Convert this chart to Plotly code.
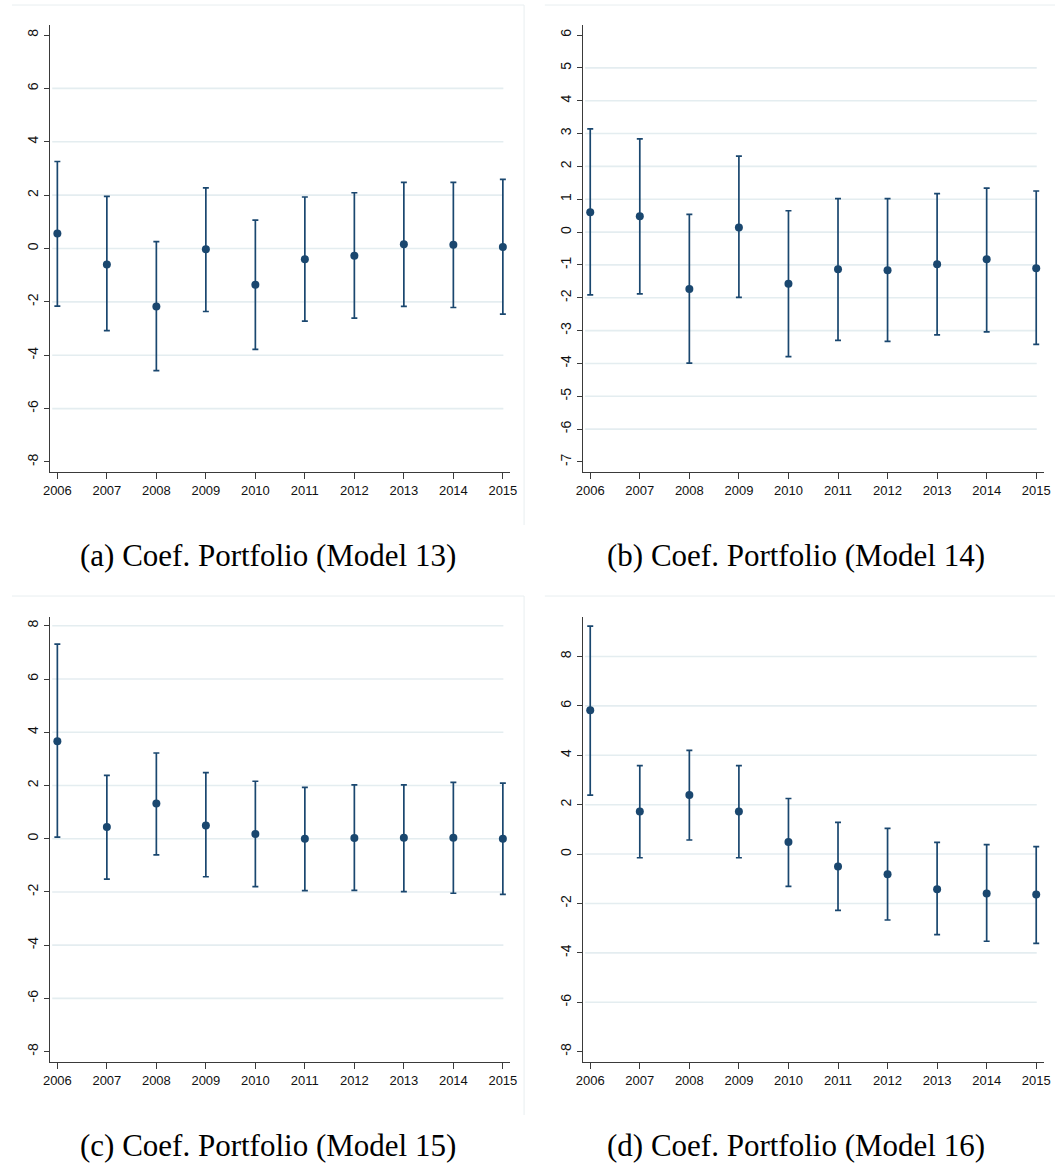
import plotly.graph_objects as go

W, H = 1062, 1166

years = [2006, 2007, 2008, 2009, 2010, 2011, 2012, 2013, 2014, 2015]
year_labels = [str(y) for y in years]

# Model 13
m13_coef = [0.56, -0.60, -2.17, -0.03, -1.36, -0.40, -0.27, 0.16, 0.14, 0.06]
m13_low = [-2.16, -3.08, -4.58, -2.36, -3.78, -2.72, -2.61, -2.17, -2.21, -2.46]
m13_up = [3.26, 1.95, 0.26, 2.27, 1.06, 1.93, 2.09, 2.48, 2.48, 2.59]

# Model 14
m14_coef = [0.60, 0.48, -1.73, 0.14, -1.57, -1.13, -1.16, -0.98, -0.83, -1.10]
m14_low = [-1.91, -1.88, -3.99, -1.99, -3.79, -3.30, -3.33, -3.13, -3.04, -3.42]
m14_up = [3.14, 2.84, 0.54, 2.31, 0.65, 1.02, 1.02, 1.17, 1.34, 1.25]

# Model 15
m15_coef = [3.66, 0.44, 1.32, 0.50, 0.18, 0.00, 0.03, 0.04, 0.04, 0.00]
m15_low = [0.06, -1.52, -0.61, -1.43, -1.80, -1.95, -1.94, -1.99, -2.05, -2.09]
m15_up = [7.31, 2.38, 3.22, 2.48, 2.16, 1.93, 2.02, 2.02, 2.12, 2.09]

# Model 16
m16_coef = [5.82, 1.72, 2.39, 1.72, 0.49, -0.50, -0.82, -1.42, -1.60, -1.64]
m16_low = [2.39, -0.15, 0.57, -0.15, -1.31, -2.28, -2.67, -3.26, -3.53, -3.62]
m16_up = [9.23, 3.58, 4.20, 3.58, 2.25, 1.28, 1.04, 0.47, 0.38, 0.30]

captions = ["(a) Coef. Portfolio (Model 13)", "(b) Coef. Portfolio (Model 14)",
            "(c) Coef. Portfolio (Model 15)", "(d) Coef. Portfolio (Model 16)"]

yticks_a = [-8, -6, -4, -2, 0, 2, 4, 6, 8]
ygrid_a = [-6, -4, -2, 0, 2, 4, 6]
yticks_b = [-7, -6, -5, -4, -3, -2, -1, 0, 1, 2, 3, 4, 5, 6]
ygrid_b = [-6, -5, -4, -3, -2, -1, 0, 1, 2, 3, 4, 5]
yticks_c = [-8, -6, -4, -2, 0, 2, 4, 6, 8]
ygrid_c = [-6, -4, -2, 0, 2, 4, 6, 8]
yticks_d = [-8, -6, -4, -2, 0, 2, 4, 6, 8]
ygrid_d = [-6, -4, -2, 0, 2, 4, 6, 8]

NAVY = "#1a476f"
GRID = "#e4edf0"
FRAME = "#e8eef0"
AXC = "#3a3a3a"

panels = [
    dict(coef=m13_coef, low=m13_low, up=m13_up, ticks=yticks_a, grid=ygrid_a,
         yr=[-8.375, 8.375], px=(43.5, 510), py=(25, 472), cap=(264, 555)),
    dict(coef=m14_coef, low=m14_low, up=m14_up, ticks=yticks_b, grid=ygrid_b,
         yr=[-7.305, 6.305], px=(583.5, 1050.5), py=(25, 472), cap=(800, 555)),
    dict(coef=m15_coef, low=m15_low, up=m15_up, ticks=yticks_c, grid=ygrid_c,
         yr=[-8.39, 8.35], px=(43.5, 510), py=(616.5, 1062), cap=(264, 1145)),
    dict(coef=m16_coef, low=m16_low, up=m16_up, ticks=yticks_d, grid=ygrid_d,
         yr=[-8.42, 9.62], px=(583.5, 1050.5), py=(616.5, 1062), cap=(800, 1145)),
]

fig = go.Figure()
shapes = []
annotations = []

for i, p in enumerate(panels, start=1):
    xa = "x" if i == 1 else f"x{i}"
    ya = "y" if i == 1 else f"y{i}"
    plus = [u - c for u, c in zip(p["up"], p["coef"])]
    minus = [c - l for c, l in zip(p["coef"], p["low"])]
    fig.add_trace(go.Scatter(
        x=years, y=p["coef"], mode="markers", xaxis=xa, yaxis=ya,
        marker=dict(color=NAVY, size=8, symbol="circle"),
        error_y=dict(type="data", symmetric=False, array=plus, arrayminus=minus,
                     color=NAVY, thickness=1.7, width=3),
        showlegend=False, hoverinfo="skip", cliponaxis=False))
    xdom = [p["px"][0] / W, p["px"][1] / W]
    ydom = [1 - p["py"][1] / H, 1 - p["py"][0] / H]
    axkey_x = "xaxis" if i == 1 else f"xaxis{i}"
    axkey_y = "yaxis" if i == 1 else f"yaxis{i}"
    fig.layout[axkey_x] = dict(
        domain=xdom, anchor=ya, range=[2005.85, 2015.15],
        tickmode="array", tickvals=years, ticktext=year_labels,
        showgrid=False, zeroline=False, showline=True, linecolor=AXC, linewidth=1,
        ticks="outside", ticklen=6, tickcolor=AXC, tickwidth=1,
        tickfont=dict(family="Liberation Sans, Arial", size=13, color="#111"))
    fig.layout[axkey_y] = dict(
        domain=ydom, anchor=xa, range=p["yr"],
        tickmode="array", tickvals=p["ticks"], ticktext=[str(t) for t in p["ticks"]],
        tickangle=-90,
        showgrid=False, zeroline=False, showline=True, linecolor=AXC, linewidth=1,
        ticks="outside", ticklen=5, tickcolor=AXC, tickwidth=1,
        tickfont=dict(family="Liberation Sans, Arial", size=14, color="#111"))
    for g in p["grid"]:
        shapes.append(dict(type="line", xref=f"{xa} domain", yref=ya,
                           x0=0.005, x1=0.985, y0=g, y1=g, layer="below",
                           line=dict(color=GRID, width=1.6)))
    annotations.append(dict(text=captions[i - 1], x=p["cap"][0] / W, y=1 - p["cap"][1] / H,
                            xref="paper", yref="paper", showarrow=False,
                            xanchor="center", yanchor="middle",
                            font=dict(family="Liberation Serif, Times New Roman", size=31, color="#000")))

# faint outer frames of the graph regions
frames = [
    (5, 524, 5, 525, True),
    (545, 1062, 5, 525, False),
    (5, 524, 596, 1115, True),
    (545, 1062, 596, 1115, False),
]
for x0, x1, y0, y1, right in frames:
    shapes.append(dict(type="line", xref="paper", yref="paper",
                       x0=x0 / W, x1=x1 / W, y0=1 - y0 / H, y1=1 - y0 / H,
                       line=dict(color=FRAME, width=1)))
    if right:
        shapes.append(dict(type="line", xref="paper", yref="paper",
                           x0=x1 / W, x1=x1 / W, y0=1 - y0 / H, y1=1 - y1 / H,
                           line=dict(color=FRAME, width=1)))

fig.update_layout(width=W, height=H, margin=dict(l=0, r=0, t=0, b=0),
                  paper_bgcolor="white", plot_bgcolor="white",
                  shapes=shapes, annotations=annotations)

fig.write_html("out.html", config={"displayModeBar": False},
               post_script="document.body.style.margin='0';document.body.style.overflow='hidden';")
